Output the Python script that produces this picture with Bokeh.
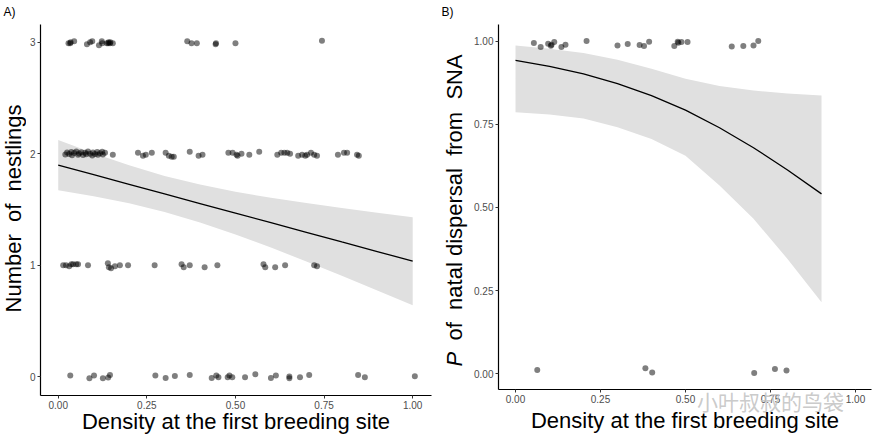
from math import pi
from bokeh.plotting import figure
from bokeh.models import Range1d, FixedTicker, LinearAxis
from bokeh.layouts import row, column
from bokeh.core.properties import value
from bokeh.embed import file_html
from bokeh.resources import INLINE

FONT = "Liberation Sans"

# ---------------- Panel A data: number of nestlings (jittered) ----------------
nest_x = [0.029, 0.034, 0.035, 0.045, 0.081, 0.090, 0.096, 0.115, 0.123, 0.124,
          0.137, 0.141, 0.142, 0.146, 0.147, 0.154, 0.364, 0.376, 0.391, 0.444,
          0.445, 0.500, 0.744,
          0.020, 0.025, 0.031, 0.037, 0.039, 0.045, 0.051, 0.056, 0.059, 0.065,
          0.070, 0.076, 0.079, 0.084, 0.090, 0.096, 0.098, 0.104, 0.110, 0.112,
          0.118, 0.124, 0.126, 0.132,
          0.154, 0.225, 0.239, 0.247, 0.264, 0.303, 0.312, 0.320, 0.326, 0.371,
          0.396, 0.407, 0.480, 0.492, 0.503, 0.506, 0.517, 0.539, 0.567, 0.618,
          0.629, 0.638, 0.646, 0.654, 0.677, 0.688, 0.697, 0.702, 0.713, 0.722,
          0.730, 0.789, 0.806, 0.815, 0.843, 0.848,
          0.014, 0.022, 0.031, 0.037, 0.042, 0.051, 0.056, 0.084, 0.140, 0.143,
          0.149, 0.160, 0.174, 0.197, 0.272, 0.348, 0.354, 0.371, 0.413, 0.449,
          0.579, 0.584, 0.612, 0.640, 0.722, 0.730,
          0.034, 0.088, 0.101, 0.126, 0.141, 0.146, 0.274, 0.303, 0.329, 0.371,
          0.433, 0.446, 0.452, 0.478, 0.483, 0.491, 0.527, 0.556, 0.600, 0.614,
          0.652, 0.652, 0.682, 0.708, 0.846, 0.865, 1.006]
nest_y = [2.991, 2.991, 3.000, 3.009, 2.982, 3.000, 3.009, 2.973, 3.009, 2.991,
          2.991, 2.991, 3.000, 2.991, 3.000, 2.991, 3.009, 2.991, 2.991, 2.982,
          2.991, 2.991, 3.014,
          1.994, 2.012, 1.998, 2.016, 1.987, 2.006, 2.021, 1.992, 2.003, 2.014,
          1.989, 2.008, 1.996, 2.019, 2.001, 1.985, 2.011, 1.997, 2.015, 1.990,
          2.005, 2.017, 1.993, 2.009,
          1.991, 2.009, 1.982, 1.991, 2.009, 2.009, 1.982, 1.973, 1.973, 2.018,
          1.982, 1.991, 2.009, 2.009, 1.991, 1.982, 2.000, 1.991, 2.018, 1.991,
          2.009, 2.009, 2.009, 2.000, 1.982, 1.991, 1.982, 1.991, 2.009, 1.991,
          1.982, 1.991, 2.009, 2.009, 1.991, 1.982,
          1.000, 1.000, 0.991, 1.009, 1.009, 1.009, 1.009, 1.000, 1.018, 0.982,
          0.973, 0.991, 1.000, 1.000, 1.000, 1.009, 0.982, 1.000, 0.982, 1.000,
          1.009, 0.982, 0.982, 1.000, 1.000, 0.991,
          0.009, -0.015, 0.009, -0.015, -0.009, 0.015, 0.009, -0.012, 0.006, 0.015,
          -0.012, 0.009, -0.006, -0.006, 0.009, -0.006, -0.006, 0.021, -0.012, 0.009,
          0.000, -0.015, -0.006, 0.015, 0.015, -0.006, 0.003]

# fitted line and confidence band (panel A)
fitA_x = [0.0, 0.1, 0.2, 0.3, 0.4, 0.5, 0.6, 0.7, 0.8, 0.9, 1.0]
fitA_y = [1.898, 1.812, 1.726, 1.639, 1.553, 1.467, 1.381, 1.295, 1.208, 1.122, 1.036]
fitA_hi = [2.123, 2.005, 1.897, 1.801, 1.723, 1.659, 1.604, 1.557, 1.512, 1.471, 1.431]
fitA_lo = [1.673, 1.619, 1.556, 1.477, 1.383, 1.275, 1.158, 1.033, 0.904, 0.773, 0.641]

# ---------------- Panel B data: natal dispersal from SNA (jittered) ----------------
disp_x = [0.054, 0.074, 0.096, 0.104, 0.106, 0.114, 0.135, 0.147, 0.209, 0.300,
          0.330, 0.365, 0.378, 0.393, 0.467, 0.477, 0.479, 0.488, 0.506, 0.636,
          0.670, 0.700, 0.714,
          0.064, 0.382, 0.402, 0.702, 0.763, 0.797]
disp_y = [0.995, 0.983, 0.993, 0.987, 0.990, 0.998, 0.983, 0.990, 1.001, 0.988,
          0.992, 0.989, 0.986, 0.999, 0.986, 0.999, 0.996, 0.998, 0.998, 0.985,
          0.986, 0.988, 1.001,
          0.011, 0.016, 0.003, 0.002, 0.014, 0.009]

fitB_x = [0.0, 0.1, 0.2, 0.3, 0.4, 0.5, 0.6, 0.7, 0.8, 0.9]
fitB_y = [0.943, 0.925, 0.902, 0.873, 0.837, 0.793, 0.740, 0.680, 0.613, 0.541]
fitB_hi = [0.988, 0.978, 0.965, 0.945, 0.918, 0.888, 0.866, 0.852, 0.843, 0.837]
fitB_lo = [0.787, 0.780, 0.768, 0.742, 0.706, 0.656, 0.566, 0.466, 0.345, 0.215]

x_ticks = [0.0, 0.25, 0.5, 0.75, 1.0]
x_tick_labels = ["0.00", "0.25", "0.50", "0.75", "1.00"]
yA_ticks = [0, 1, 2, 3]
yA_tick_labels = ["0", "1", "2", "3"]
yB_ticks = [0.0, 0.25, 0.5, 0.75, 1.0]
yB_tick_labels = ["0.00", "0.25", "0.50", "0.75", "1.00"]

x_title = "Density at the first breeding site"
yA_title = "Number\u00a0 of\u00a0 nestlings"
yB_title_p = "P"
yB_title_rest = "of\u00a0 natal dispersal\u00a0 from\u00a0 SNA"
watermark = "小叶叔叔的鸟袋"
watermark_at = 0.75

TOTAL_H = 440


def style(p, yticks, ylabels):
    p.outline_line_color = None
    p.xgrid.visible = False
    p.ygrid.visible = False
    p.background_fill_color = "white"
    p.border_fill_color = "white"
    p.xaxis.ticker = FixedTicker(ticks=x_ticks)
    p.xaxis.major_label_overrides = dict(zip(x_ticks, x_tick_labels))
    p.yaxis.ticker = FixedTicker(ticks=yticks)
    p.yaxis.major_label_overrides = dict(zip([float(t) for t in yticks], ylabels))
    for ax in (p.xaxis, p.yaxis):
        ax.axis_line_color = "black"
        ax.axis_line_width = 1.2
        ax.major_tick_line_color = "#333333"
        ax.major_tick_in = 0
        ax.major_tick_out = 3
        ax.minor_tick_line_color = None
        ax.major_label_text_font = FONT
        ax.major_label_text_font_size = "10px"
        ax.major_label_text_color = "#4d4d4d"
        ax.major_label_standoff = 2


def style_xtitle(ax, standoff):
    ax.axis_label = x_title
    ax.axis_label_text_font = FONT
    ax.axis_label_text_font_size = "22px"
    ax.axis_label_text_font_style = "normal"
    ax.axis_label_text_color = "black"
    ax.axis_label_standoff = standoff


def strip(w, h):
    s = figure(width=w, height=h, x_range=Range1d(0, w), y_range=Range1d(0, h),
               output_backend="svg", toolbar_location=None, min_border=0,
               x_axis_location=None, y_axis_location=None)
    s.outline_line_color = None
    s.xgrid.visible = False
    s.ygrid.visible = False
    s.background_fill_color = "white"
    s.border_fill_color = "white"
    return s


# ---------------- Panel A ----------------
pA = figure(width=412, height=TOTAL_H, output_backend="svg", toolbar_location=None,
            x_range=Range1d(-0.05, 1.053), y_range=Range1d(-0.17, 3.16),
            min_border_left=14, min_border_right=7, min_border_top=24,
            min_border_bottom=45)
style(pA, yA_ticks, yA_tick_labels)
style_xtitle(pA.xaxis[0], -3)
pA.varea(x=fitA_x, y1=fitA_lo, y2=fitA_hi, fill_color="#e0e0e0")
pA.scatter(nest_x, nest_y, size=6, fill_color="black", fill_alpha=0.5, line_color=None)
pA.line(fitA_x, fitA_y, line_color="black", line_width=1.3)

leftA = strip(26, TOTAL_H)
leftA.text(x=[3], y=[TOTAL_H - 11.5], text=["A)"], text_font=value(FONT),
           text_font_size=value("12px"), text_baseline="middle", text_align="left",
           text_color="black")
leftA.text(x=[13], y=[TOTAL_H - 208], text=[yA_title], angle=pi / 2,
           text_font=value(FONT), text_font_size=value("22px"),
           text_baseline="middle", text_align="center", text_color="black")

# ---------------- Panel B ----------------
pB = figure(width=412, height=TOTAL_H, output_backend="svg", toolbar_location=None,
            x_range=Range1d(-0.05, 1.047), y_range=Range1d(-0.048, 1.051),
            min_border_left=30, min_border_right=9, min_border_top=24,
            min_border_bottom=51)
style(pB, yB_ticks, yB_tick_labels)
pB.varea(x=fitB_x, y1=fitB_lo, y2=fitB_hi, fill_color="#e0e0e0")
pB.scatter(disp_x, disp_y, size=6, fill_color="black", fill_alpha=0.5, line_color=None)
pB.line(fitB_x, fitB_y, line_color="black", line_width=1.3)

# second (line-less) bottom axis: carries the watermark as its only label and the x title
wm_axis = LinearAxis(ticker=FixedTicker(ticks=[watermark_at]),
                     major_label_overrides={watermark_at: watermark, str(watermark_at): watermark})
wm_axis.axis_line_color = None
wm_axis.major_tick_line_color = None
wm_axis.minor_tick_line_color = None
wm_axis.major_tick_in = 0
wm_axis.major_tick_out = 0
wm_axis.major_label_standoff = -20
wm_axis.major_label_text_font = "Noto Sans CJK SC"
wm_axis.major_label_text_font_size = "21px"
wm_axis.major_label_text_color = "#c4c4c4"
wm_axis.major_label_text_alpha = 0.9
style_xtitle(wm_axis, -11)
pB.add_layout(wm_axis, "below")

leftB = strip(30, TOTAL_H)
leftB.text(x=[3], y=[TOTAL_H - 11.5], text=["B)"], text_font=value(FONT),
           text_font_size=value("12px"), text_baseline="middle", text_align="left",
           text_color="black")
leftB.text(x=[16], y=[TOTAL_H - 366], text=[yB_title_p], angle=pi / 2,
           text_font=value(FONT), text_font_size=value("22px"),
           text_font_style="italic", text_baseline="middle", text_align="left",
           text_color="black")
leftB.text(x=[16], y=[TOTAL_H - 340], text=[yB_title_rest], angle=pi / 2,
           text_font=value(FONT), text_font_size=value("22px"),
           text_baseline="middle", text_align="left", text_color="black")

# wrap the data plots in their own columns so the row does not align their frames
layout = row(leftA, column(pA), leftB, column(pB))
open("out.html", "w").write(file_html(layout, INLINE))
